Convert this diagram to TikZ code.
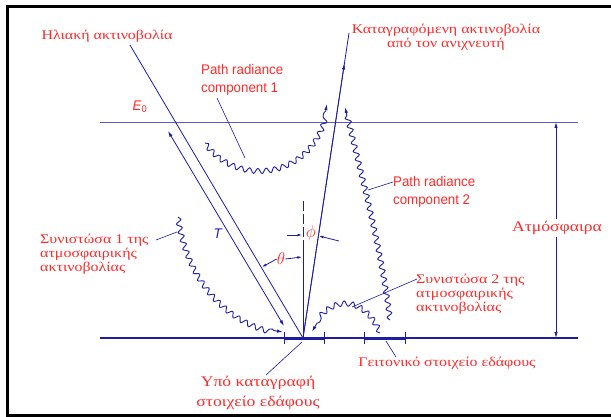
\documentclass[tikz,border=0pt]{standalone}
\usepackage{fontspec}
\setmainfont[FakeStretch=1.2]{Liberation Serif}
\newfontfamily\isofont[FakeStretch=0.95]{Liberation Sans}
\usetikzlibrary{arrows.meta,calc,decorations.pathmorphing}
\definecolor{rayblue}  {HTML}{1C1CA8}
\definecolor{skyline}  {HTML}{5A5AC8}
\definecolor{labelred} {HTML}{FF2A2A}

\begin{document}
\begin{tikzpicture}[x=1pt,y=-1pt,
    ray/.style={draw=rayblue,line width=0.8pt},
    tip/.style={-{Latex[length=6pt,width=3.4pt]}},
    smalltip/.style={-{Latex[length=4.5pt,width=2.8pt]}},
    wave/.style={ray,line width=0.9pt,decorate,decoration={snake,amplitude=2.6pt,segment length=8.5pt,post length=7pt}},
    pointer/.style={draw=rayblue,line width=0.6pt},
    greek/.style={text=labelred,font=\fontsize{13.3}{14}\selectfont,inner sep=1pt},
    bigreek/.style={text=labelred,font=\fontsize{14.7}{20}\selectfont,inner sep=1pt},
    angle/.style={text=labelred,font=\fontsize{16}{16}\selectfont,inner sep=0pt},
    iso/.style={text=labelred,font=\isofont\fontsize{14}{18}\selectfont,inner sep=1pt}]
  \useasboundingbox (0,0) rectangle (611,417);
  \draw[line width=3pt] (7.5,7) rectangle (614,415.5);

  % ground, top of atmosphere
  \coordinate (p) at (303,338);
  \coordinate (gl) at (100,338);
  \coordinate (gr) at (578,338);
  \coordinate (tl) at (100,122);
  \coordinate (tr) at (578,122);
  \draw[draw=skyline,line width=0.7pt] (tl) -- (tr);
  \draw[ray,line width=1.3pt] (gl) -- (gr);
  \draw[ray,line width=3pt] (284,338) -- (324,338);
  \draw[ray,line width=3pt] (364,338) -- (405,338);
  \foreach \tx in {284,324,364,405}
    \draw[ray] (\tx,332) -- (\tx,344);

  % rays
  \coordinate (sunstart) at (130,45);
  \coordinate (dettop) at (349,33);
  \coordinate (ttop) at (168,131);
  \coordinate (tbot) at (284,326);
  \draw[ray] (sunstart) -- (p);
  \draw[ray] (p) -- (dettop);
  \draw[ray,tip] (p) -- ($(p)!0.9!(dettop)$);
  \draw[ray,{Latex[length=6pt,width=3.4pt]}-{Latex[length=6pt,width=3.4pt]}] (tbot) -- (ttop);

  % normal and angles
  \coordinate (nbot) at (303,250);
  \coordinate (ntop) at (303,199);
  \draw[ray] (p) -- (nbot);
  \draw[ray,dash pattern=on 10pt off 3pt] (nbot) -- (ntop);
  \node[angle] (phil) at (311,233) {$\phi$};
  \node[angle] (thetal) at (281,259) {$\theta$};
  \draw[ray,smalltip] (287,235) -- (302,235);
  \draw[ray,smalltip] (339,241) -- (319,236);
  \draw[ray,smalltip] (thetal.east) -- (302,257);
  \draw[ray,smalltip] (thetal.west) -- (262,267);

  % scattered components
  \draw[wave,tip] (205,143) .. controls (235,185) and (315,180) .. (327,104);
  \draw[wave,tip] (390,320) .. controls (380,240) and (358,165) .. (345,107);
  \draw[wave,tip] (178,217) .. controls (186,275) and (225,325) .. (283,332);
  \draw[wave,tip] (380,333) .. controls (365,298) and (330,295) .. (312,332);

  % atmosphere height
  \coordinate (atop) at (556,122);
  \coordinate (abot) at (556,338);
  \draw[ray,{Latex[length=6pt,width=3.4pt]}-{Latex[length=6pt,width=3.4pt]}] (abot) -- (atop);
  \node[bigreek,fill=white,inner sep=2pt] (atmlab) at (557,228) {Ατμόσφαιρα};

  % labels
  \node[greek] (sunlab) at (107,36) {Ηλιακή ακτινοβολία};
  \node[greek,align=center] (detlab) at (446,37) {Καταγραφόμενη ακτινοβολία\\από τον ανιχνευτή};
  \node[iso,anchor=west,align=left] (pr1lab) at (200,80) {Path radiance\\component 1};
  \node[iso,anchor=west,align=left] (pr2lab) at (392,192) {Path radiance\\component 2};
  \node[greek,anchor=west,align=left] (atm1lab) at (39,254) {Συνιστώσα 1 της\\ατμοσφαιρικής\\ακτινοβολίας};
  \node[greek,anchor=west,align=left] (atm2lab) at (415,294) {Συνιστώσα 2 της\\ατμοσφαιρικής\\ακτινοβολίας};
  \node[greek] (neighlab) at (447,363) {Γειτονικό στοιχείο εδάφους};
  \node[bigreek,align=center] (targlab) at (258,393) {Υπό καταγραφή\\στοιχείο εδάφους};
  \node[iso,font=\isofont\fontsize{14}{14}\selectfont] (e0lab) at (140,107) {\textit{E}\textsubscript{0}};
  \node[iso,font=\isofont\fontsize{14}{14}\selectfont,text=rayblue] (tlab) at (218,234) {\textit{T}};

  % pointers
  \draw[pointer] (217,98) -- (245,158);
  \draw[pointer] (393,182) -- (368,190);
  \draw[pointer] (156,240) -- (177,232);
  \draw[pointer] (417,279) -- (352,307);
  \draw[pointer] (386,341) -- (396,357);
  \draw[pointer] (302,342) -- (266,375);
\end{tikzpicture}
\end{document}
